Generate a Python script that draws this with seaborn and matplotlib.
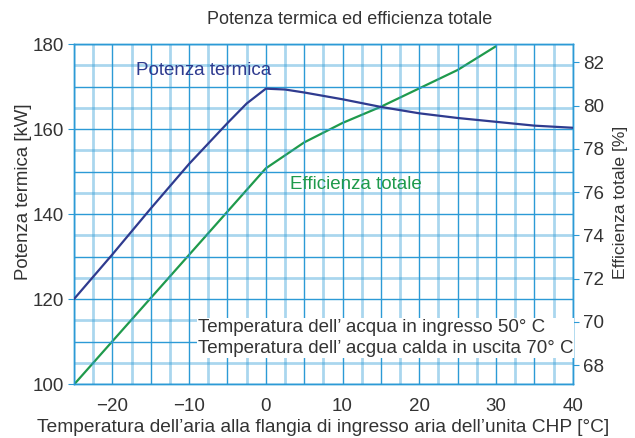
import matplotlib
matplotlib.use("Agg")
import matplotlib.pyplot as plt
import seaborn as sns
import pandas as pd

# curve readings from the reference
temp_power = [-25, -20, -15, -10, -5, -2.5, 0, 2.5, 5, 10, 15, 20, 25, 30, 35, 40]
power_kw = [120, 130.5, 141.3, 151.8, 161.4, 166.0, 169.5, 169.3, 168.6, 167.0, 165.2, 163.7, 162.6, 161.7, 160.8, 160.3]

temp_eff = [-25, -20, -15, -10, -5, 0, 5, 10, 15, 20, 25, 30]
efficiency = [67.1, 69.1, 71.1, 73.1, 75.1, 77.1, 78.3, 79.2, 79.95, 80.8, 81.65, 82.75]

x_ticks = [-20, -10, 0, 10, 20, 30, 40]
left_ticks = [100, 120, 140, 160, 180]
right_ticks = [68, 70, 72, 74, 76, 78, 80, 82]

grid_blue = "#2c9ad6"
line_blue = "#2f3b8f"
line_green = "#1f9a4c"
text_gray = "#333333"

sns.set_style("white")
plt.rcParams["font.family"] = ["Liberation Sans", "DejaVu Sans"]

df_p = pd.DataFrame({"t": temp_power, "p": power_kw})
df_e = pd.DataFrame({"t": temp_eff, "e": efficiency})

fig = plt.figure(figsize=(6.35, 4.38), dpi=100)
ax = fig.add_axes([0.1165, 0.123, 0.7855, 0.7765])

ax.set_xlim(-25, 40)
ax.set_ylim(100, 180)

# grid: light wide minor lines, thin darker major lines
for i in range(27):
    t = -25 + 2.5 * i
    if i % 2 == 0:
        ax.axvline(t, color=grid_blue, lw=1.0, zorder=0)
    else:
        ax.axvline(t, color=grid_blue, lw=2.0, alpha=0.4, zorder=0)
for v in range(100, 181, 5):
    if v % 10 == 0:
        ax.axhline(v, color=grid_blue, lw=1.0, zorder=0)
    else:
        ax.axhline(v, color=grid_blue, lw=2.0, alpha=0.4, zorder=0)

sns.lineplot(data=df_p, x="t", y="p", ax=ax, color=line_blue, lw=1.6, zorder=3)

ax2 = ax.twinx()
ax2.set_ylim(67.12, 82.85)
sns.lineplot(data=df_e, x="t", y="e", ax=ax2, color=line_green, lw=1.6, zorder=3)

ax.set_xticks(x_ticks)
ax.set_yticks(left_ticks)
ax2.set_yticks(right_ticks)
ax.tick_params(axis="both", labelsize=13.5, colors=text_gray, length=4, color=grid_blue)
ax.tick_params(axis="x", pad=6)
ax2.tick_params(axis="y", labelsize=13.5, colors=text_gray, length=4, color=grid_blue)

for a in (ax, ax2):
    for s in a.spines.values():
        s.set_color(grid_blue)
        s.set_linewidth(1.0)

ax.set_xlabel("Temperatura dell\u2019aria alla flangia di ingresso aria dell\u2019unita CHP [°C]",
              fontsize=13.8, color=text_gray, labelpad=3)
ax.set_ylabel("Potenza termica [kW]", fontsize=13.4, color=text_gray)
ax.yaxis.set_label_coords(-0.084, 0.565)
ax2.set_ylabel("Efficienza totale [%]", fontsize=12.6, color=text_gray)
ax2.yaxis.set_label_coords(1.08, 0.535)
fig.suptitle("Potenza termica ed efficienza totale", fontsize=13, color=text_gray, x=0.551, y=0.975)

ax.text(-16.9, 172.8, "Potenza termica", fontsize=13.5, color=line_blue, zorder=4)
ax.text(3.2, 146.0, "Efficienza totale", fontsize=13.5, color=line_green, zorder=4)
ax.text(-8.9, 110.8, "Temperatura dell\u2019 acqua in ingresso 50° C\nTemperatura dell\u2019 acgua calda in uscita 70° C",
        fontsize=13.5, color=text_gray, linespacing=1.35, va="center", zorder=4,
        bbox=dict(facecolor="white", edgecolor="none", pad=0.5))

ax.set_zorder(ax2.get_zorder() + 1)
ax.patch.set_visible(False)
ax2.patch.set_visible(True)

fig.savefig("out.png", dpi=100)
